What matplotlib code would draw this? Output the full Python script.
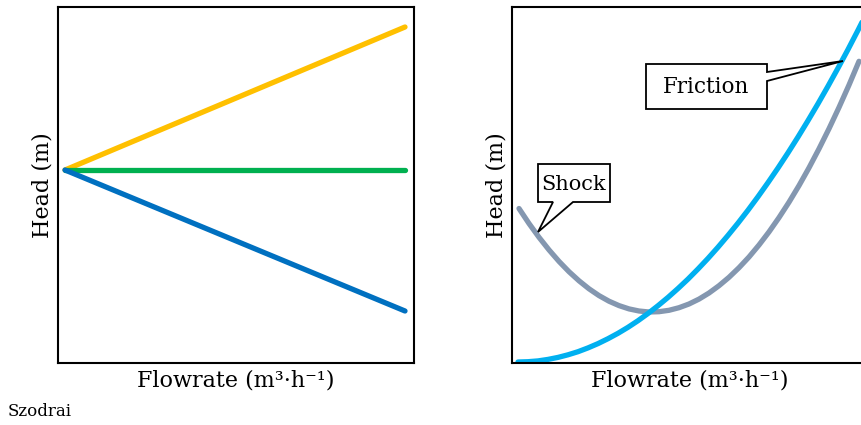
import matplotlib
matplotlib.use('Agg')
from matplotlib import pyplot as plt
from matplotlib.patches import Polygon

# left panel: straight head lines from a common start
q_lin = [7, 347]
h_rise = [192, 335]
h_flat = [192, 192]
h_fall = [192, 51]

# right panel: friction curve
q_fric = [6, 16, 26, 36, 46, 56, 66, 76, 86, 96, 106, 116, 126, 136, 146, 156, 166, 176,
          186, 196, 206, 216, 226, 236, 246, 256, 266, 276, 286, 296, 306, 316, 326, 336,
          346, 356]
h_fric = [0.0, 0.3, 1.1, 2.6, 4.6, 7.2, 10.3, 14.1, 18.4, 23.3, 28.7, 34.7, 41.3, 48.5,
          56.3, 64.6, 73.5, 82.9, 93.0, 103.6, 114.8, 126.6, 138.9, 151.8, 165.3, 179.4,
          194.0, 209.2, 225.0, 241.4, 258.3, 275.8, 293.9, 312.5, 331.8, 351.6]

# right panel: total (shock + friction) curve
q_tot = [7, 17, 27, 37, 47, 57, 67, 77, 87, 97, 107, 117, 127, 137, 147, 157, 167, 177,
         187, 197, 207, 217, 227, 237, 247, 257, 267, 277, 287, 297, 307, 317, 327, 337,
         347]
h_tot = [153.5, 138.5, 124.7, 112.1, 100.6, 90.3, 81.2, 73.2, 66.4, 60.8, 56.4, 53.1,
         51.0, 50.0, 50.3, 51.7, 54.3, 58.0, 62.9, 69.0, 76.3, 84.7, 94.3, 105.0, 117.0,
         130.1, 144.4, 159.8, 176.4, 194.2, 213.2, 233.3, 254.6, 277.0, 300.7]

xlab = 'Flowrate (m³·h⁻¹)'
ylab = 'Head (m)'

plt.rcParams['font.family'] = ['DejaVu Serif']

W, H = 861, 425
fig = plt.figure(figsize=(W/100, H/100), dpi=100)

def px_axes(x0, y0, x1, y1):
    return fig.add_axes([x0/W, (H-y1)/H, (x1-x0)/W, (y1-y0)/H])

ax1 = px_axes(58, 7, 414, 363)
ax2 = px_axes(512, 7, 868, 363)

lw = 3.8
ax1.plot(q_lin, h_rise, color='#FFC000', lw=lw, solid_capstyle='round')
ax1.plot(q_lin, h_flat, color='#00B050', lw=lw, solid_capstyle='round')
ax1.plot(q_lin, h_fall, color='#0070C0', lw=lw, solid_capstyle='round')

ax2.plot(q_tot, h_tot, color='#8497B0', lw=lw, solid_capstyle='round')
ax2.plot(q_fric, h_fric, color='#00B0F0', lw=lw, solid_capstyle='round')

for ax in (ax1, ax2):
    ax.set_xlim(0, 356)
    ax.set_ylim(-1, 355)
    ax.set_xticks([])
    ax.set_yticks([])
    for s in ax.spines.values():
        s.set_linewidth(1.5)
        s.set_color('black')
    ax.set_xlabel(xlab, fontsize=16, labelpad=5)
    ax.set_ylabel(ylab, fontsize=16, labelpad=3)

# callouts
fric_box = [(134, 253), (255, 253), (255, 281), (331, 301), (255, 290), (255, 298),
            (134, 298)]
shock_box = [(26, 160), (41, 160), (26, 130), (61, 160), (98, 160), (98, 198), (26, 198)]
for pts in (fric_box, shock_box):
    ax2.add_patch(Polygon(pts, closed=True, facecolor='white', edgecolor='black',
                          lw=1.3, zorder=5))
ax2.text(194, 275, 'Friction', fontsize=15.5, ha='center', va='center', zorder=6)
ax2.text(62, 178, 'Shock', fontsize=15, ha='center', va='center', zorder=6)

fig.text(8/W, 1 - 411/H, 'Szodrai', fontsize=12, ha='left', va='center')

fig.savefig('out.png', dpi=100)
